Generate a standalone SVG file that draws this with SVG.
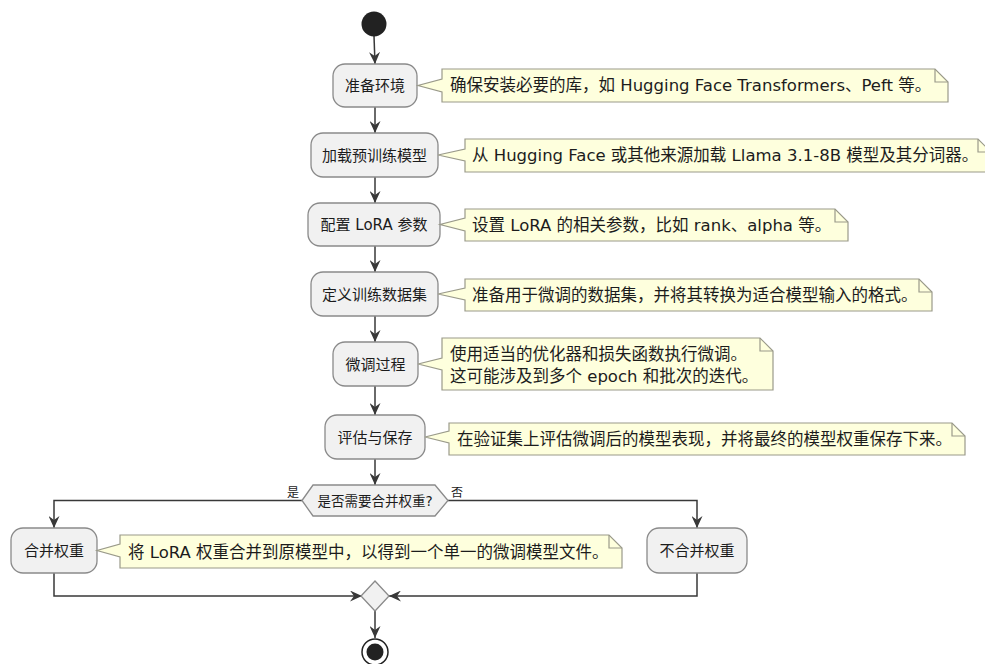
<svg xmlns="http://www.w3.org/2000/svg" width="985" height="664" viewBox="0 0 985 664">
<defs>
<style>
text{font-family:"DejaVu Sans","Noto Sans CJK SC",sans-serif;fill:#1c1c1c}
.act{fill:#F1F1F1;stroke:#8a8a8a;stroke-width:1.3}
.note{fill:#FEFFDD;stroke:#9a9a8a;stroke-width:1.2}
.fold{fill:none;stroke:#9a9a8a;stroke-width:1.2}
.lbl{font-size:15px;text-anchor:middle}
.nt{font-size:16.5px}
.edge{fill:none;stroke:#383838;stroke-width:1.5}
</style>
<marker id="arr" markerUnits="userSpaceOnUse" markerWidth="12" markerHeight="11" refX="12" refY="5.5" orient="auto">
<path d="M12,5.5 L0,0 L4,5.5 L0,11 Z" fill="#383838"/>
</marker>
</defs>
<rect width="985" height="664" fill="#ffffff"/>

<g id="connectors">
<line class="edge" x1="374" y1="36" x2="375" y2="64" marker-end="url(#arr)"/>
<line class="edge" x1="375" y1="107" x2="375" y2="133" marker-end="url(#arr)"/>
<line class="edge" x1="375" y1="177" x2="375" y2="203" marker-end="url(#arr)"/>
<line class="edge" x1="375" y1="246" x2="375" y2="272" marker-end="url(#arr)"/>
<line class="edge" x1="375" y1="316" x2="375" y2="342" marker-end="url(#arr)"/>
<line class="edge" x1="375" y1="386" x2="375" y2="415" marker-end="url(#arr)"/>
<line class="edge" x1="375" y1="459" x2="375" y2="485" marker-end="url(#arr)"/>
<polyline class="edge" points="302,500.5 54,500.5 54,528" marker-end="url(#arr)"/>
<polyline class="edge" points="448,500.5 697,500.5 697,528" marker-end="url(#arr)"/>
<polyline class="edge" points="54,573 54,596 362,596" marker-end="url(#arr)"/>
<polyline class="edge" points="697,573 697,596 389,596" marker-end="url(#arr)"/>
<line class="edge" x1="375" y1="611" x2="375" y2="638" marker-end="url(#arr)"/>
<text x="293" y="497" style="font-size:12px;text-anchor:middle">是</text>
<text x="457" y="497" style="font-size:12px;text-anchor:middle">否</text>
</g>

<g id="start">
<circle cx="374" cy="24" r="12.5" fill="#222222"/>
</g>

<g id="n1">
<rect class="act" x="333" y="64" width="84" height="43" rx="12"/>
<text class="lbl" x="375" y="91">准备环境</text>
</g>
<g id="note1">
<path class="note" d="M442,69 L935,69 L948,82 L948,102 L442,102 L442,92 L418,85.5 L442,79 Z"/>
<path class="fold" d="M935,69 L935,82 L948,82"/>
<text class="nt" x="450" y="91">确保安装必要的库，如 Hugging Face Transformers、Peft 等。</text>
</g>

<g id="n2">
<rect class="act" x="311" y="133" width="127" height="44" rx="12"/>
<text class="lbl" x="374.5" y="160.5">加载预训练模型</text>
</g>
<g id="note2">
<path class="note" d="M465,139 L978,139 L991,152 L991,172 L465,172 L465,161 L438,155 L465,149 Z"/>
<path class="fold" d="M978,139 L978,152 L991,152"/>
<text class="nt" x="472" y="161">从 Hugging Face 或其他来源加载 Llama 3.1-8B 模型及其分词器。</text>
</g>

<g id="n3">
<rect class="act" x="308" y="203" width="132" height="43" rx="12"/>
<text class="lbl" x="374" y="230">配置 LoRA 参数</text>
</g>
<g id="note3">
<path class="note" d="M465,209 L835,209 L848,222 L848,241 L465,241 L465,231 L440,224.5 L465,218 Z"/>
<path class="fold" d="M835,209 L835,222 L848,222"/>
<text class="nt" x="472" y="231">设置 LoRA 的相关参数，比如 rank、alpha 等。</text>
</g>

<g id="n4">
<rect class="act" x="311" y="272" width="127" height="44" rx="12"/>
<text class="lbl" x="374.5" y="299.5">定义训练数据集</text>
</g>
<g id="note4">
<path class="note" d="M465,279 L919,279 L932,292 L932,311 L465,311 L465,300 L438,294 L465,288 Z"/>
<path class="fold" d="M919,279 L919,292 L932,292"/>
<text class="nt" x="472" y="301">准备用于微调的数据集，并将其转换为适合模型输入的格式。</text>
</g>

<g id="n5">
<rect class="act" x="333" y="342" width="85" height="44" rx="12"/>
<text class="lbl" x="375.5" y="369.5">微调过程</text>
</g>
<g id="note5">
<path class="note" d="M442,338 L760,338 L773,351 L773,390 L442,390 L442,370 L418,364 L442,358 Z"/>
<path class="fold" d="M760,338 L760,351 L773,351"/>
<text class="nt" x="450" y="359.5">使用适当的优化器和损失函数执行微调。</text>
<text class="nt" x="450" y="381.5">这可能涉及到多个 epoch 和批次的迭代。</text>
</g>

<g id="n6">
<rect class="act" x="325" y="415" width="100" height="44" rx="12"/>
<text class="lbl" x="375" y="442.5">评估与保存</text>
</g>
<g id="note6">
<path class="note" d="M449,423 L952,423 L965,436 L965,455 L449,455 L449,443 L425,437 L449,431 Z"/>
<path class="fold" d="M952,423 L952,436 L965,436"/>
<text class="nt" x="457" y="445">在验证集上评估微调后的模型表现，并将最终的模型权重保存下来。</text>
</g>

<g id="decision">
<polygon class="act" points="302,500.5 313,485 435,485 448,500.5 435,516 313,516"/>
<text x="375" y="506" style="font-size:13.5px;text-anchor:middle">是否需要合并权重?</text>
</g>

<g id="n7">
<rect class="act" x="11" y="528" width="86" height="45" rx="12"/>
<text class="lbl" x="54" y="556">合并权重</text>
</g>
<g id="note7">
<path class="note" d="M120,535 L609,535 L622,548 L622,568 L120,568 L120,557 L97,550.5 L120,544 Z"/>
<path class="fold" d="M609,535 L609,548 L622,548"/>
<text class="nt" x="128" y="557.5">将 LoRA 权重合并到原模型中，以得到一个单一的微调模型文件。</text>
</g>

<g id="n8">
<rect class="act" x="647" y="528" width="100" height="45" rx="12"/>
<text class="lbl" x="697" y="556">不合并权重</text>
</g>

<g id="merge">
<polygon class="act" points="375,581 389,596 375,611 361,596"/>
</g>

<g id="end">
<circle cx="375" cy="652" r="13" fill="none" stroke="#222222" stroke-width="1.5"/>
<circle cx="375" cy="652" r="8.5" fill="#222222"/>
</g>
</svg>
